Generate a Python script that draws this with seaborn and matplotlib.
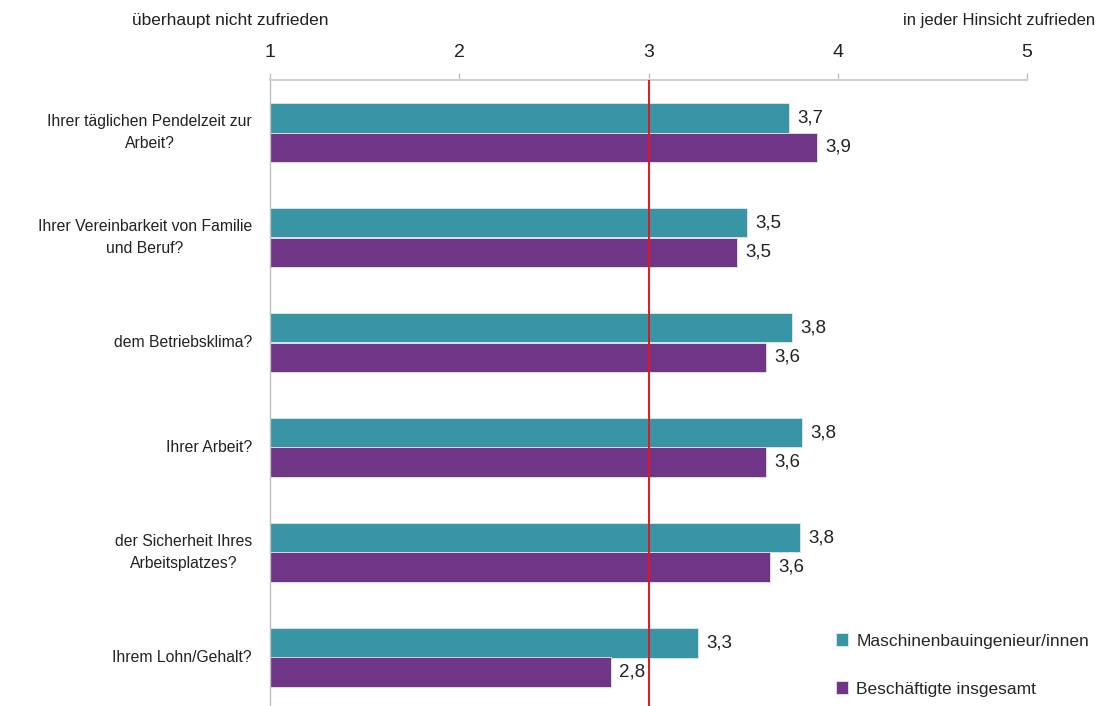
import pandas as pd
import numpy as np
import matplotlib.pyplot as plt
import seaborn as sns
from matplotlib.ticker import FixedLocator

# Data
fragen = [
    'Ihrer täglichen Pendelzeit zur\nArbeit?',
    'Ihrer Vereinbarkeit von Familie\nund Beruf?',
    'dem Betriebsklima?',
    'Ihrer Arbeit?',
    'der Sicherheit Ihres\nArbeitsplatzes?',
    'Ihrem Lohn/Gehalt?',
]
gruppen = ['Maschinenbauingenieur/innen', 'Beschäftigte insgesamt']
werte_ingenieure = [3.74, 3.52, 3.76, 3.81, 3.80, 3.26]
werte_gesamt = [3.89, 3.47, 3.62, 3.62, 3.64, 2.80]
skala_ticks = [1, 2, 3, 4, 5]

farben = ['#3795A5', '#6F3587']

df = pd.DataFrame({
    'Frage': fragen * 2,
    'Gruppe': [gruppen[0]] * len(fragen) + [gruppen[1]] * len(fragen),
    'Wert': werte_ingenieure + werte_gesamt,
})

sns.set_style('white')
plt.rcParams['font.family'] = ['Liberation Sans', 'DejaVu Sans']

fig = plt.figure(figsize=(11.1, 7.06), dpi=100)
ax = fig.add_axes([270 / 1110, 0, 757 / 1110, 626 / 706])

sns.barplot(data=df, y='Frage', x='Wert', hue='Gruppe', orient='h',
            palette=farben, width=0.56, ax=ax, legend=True, saturation=1,
            edgecolor='#E6E6E6', linewidth=0.6)

ax.set_xlim(1, 5)
ax.set_ylim(5.5 - 4 / 105, -0.5)

# Value labels with German decimal comma
for cont in ax.containers:
    labels = [f'{b.get_width():.1f}'.replace('.', ',') for b in cont]
    ax.bar_label(cont, labels=labels, padding=6, fontsize=13.5, color='#222222')

# Reference line at the scale midpoint
ax.axvline(3, color='#E8141C', lw=1.4, zorder=5)

# Top axis
ax.xaxis.set_ticks_position('top')
ax.xaxis.set_label_position('top')
ax.set_xticks(skala_ticks)
ax.set_xticklabels([str(t) for t in skala_ticks], fontsize=14, color='#222222')
ax.tick_params(axis='x', direction='out', length=5, color='#BFBFBF', width=1, pad=9)
ax.set_xlabel('')
ax.set_ylabel('')

# Category boundary ticks on the left spine
ax.yaxis.set_major_locator(FixedLocator(np.arange(len(fragen))))
ax.set_yticklabels(fragen, fontsize=11.3, color='#222222', multialignment='center',
                   linespacing=1.6, va='center')
ax.tick_params(axis='y', length=0, pad=13)
for lbl in ax.get_yticklabels():
    if '\n' in lbl.get_text():
        lbl.set_y(lbl.get_position()[1])
ax.yaxis.set_minor_locator(FixedLocator(np.arange(0.5, len(fragen) - 0.5, 1)))
ax.tick_params(axis='y', which='minor', direction='out', length=5, color='#BFBFBF', width=1)

for side in ['right', 'bottom']:
    ax.spines[side].set_visible(False)
ax.spines['left'].set_color('#BFBFBF')
ax.spines['top'].set_color('#D0D0D0')
ax.spines['left'].set_linewidth(1)
ax.spines['top'].set_linewidth(1.5)

# End labels of the scale
fig.text(230 / 1110, 1 - 20 / 706, 'überhaupt nicht zufrieden', ha='center', va='center',
         fontsize=12.5, color='#222222')
fig.text(1095 / 1110, 1 - 20 / 706, 'in jeder Hinsicht zufrieden', ha='right', va='center',
         fontsize=12, color='#222222')

# Legend in the lower right corner
handles, labels = ax.get_legend_handles_labels()
ax.get_legend().remove()
fig.legend(handles, labels, loc='center left', bbox_to_anchor=(820 / 1110, 1 - 665 / 706),
           frameon=False, fontsize=12.5, handlelength=0.7, handleheight=0.7,
           handletextpad=0.5, labelspacing=1.9)

plt.savefig('out.png', dpi=100)
